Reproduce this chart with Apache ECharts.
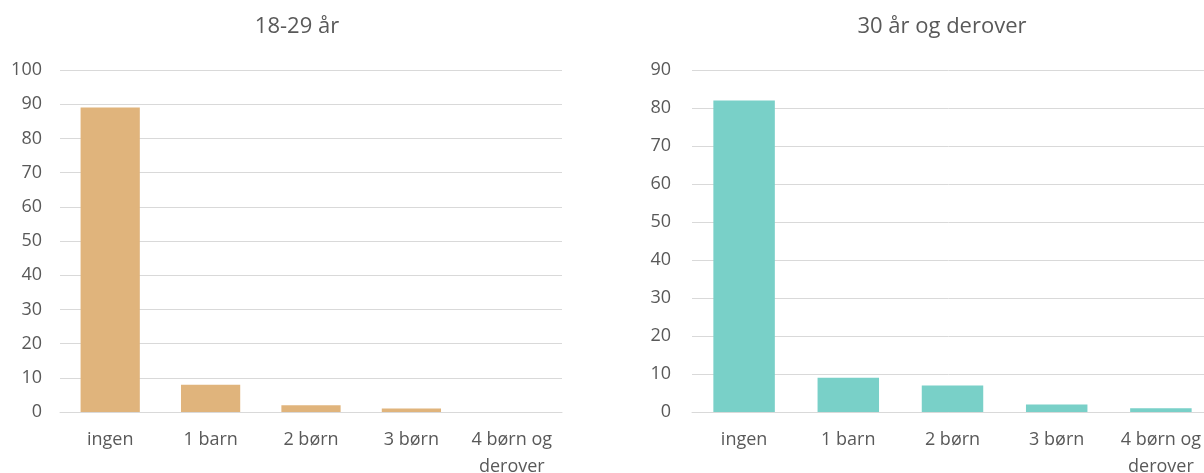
<!DOCTYPE html>
<html>
<head>
<meta charset="utf-8">
<script src="https://cdn.jsdelivr.net/npm/echarts@6/dist/echarts.min.js"></script>
<style>
  html, body { margin: 0; padding: 0; background: #fff; }
  #chart { width: 1204px; height: 473px; }
</style>
</head>
<body>
<div id="chart"></div>
<script>
// Antal børn fordelt på aldersgruppe (procent)
const categories = ['ingen', '1 barn', '2 børn', '3 børn', '4 børn og\nderover'];
const titleYoung = '18-29 år';
const titleOld = '30 år og derover';
const valuesYoung = [89, 8, 2, 1, 0];
const valuesOld = [82, 9, 7, 2, 1];

const FONT = '"Open Sans", "Noto Sans", sans-serif';
const TEXT = '#595959';
const GRID = '#d9d9d9';

function xAxis(idx) {
  return {
    type: 'category', gridIndex: idx, data: categories,
    axisLine: { show: true, lineStyle: { color: GRID, width: 1 } },
    axisTick: { show: false },
    axisLabel: { color: TEXT, fontFamily: FONT, fontSize: 18, margin: 14, lineHeight: 27, interval: 0 }
  };
}
function yAxis(idx, max, margin) {
  return {
    type: 'value', gridIndex: idx, min: 0, max: max, interval: 10,
    axisLine: { show: false }, axisTick: { show: false },
    splitLine: { lineStyle: { color: GRID, width: 1 } },
    axisLabel: { color: TEXT, fontFamily: FONT, fontSize: 18, margin: margin }
  };
}

const chart = echarts.init(document.getElementById('chart'));
chart.setOption({
  animation: false,
  title: [
    { text: titleYoung, left: 292, top: 11, textAlign: 'center',
      textStyle: { color: TEXT, fontFamily: FONT, fontSize: 22, fontWeight: 'normal' } },
    { text: titleOld, left: 937, top: 11, textAlign: 'center',
      textStyle: { color: TEXT, fontFamily: FONT, fontSize: 22, fontWeight: 'normal' } }
  ],
  grid: [
    { left: 60, right: 642, top: 70, bottom: 61, outerBoundsMode: 'none' },
    { left: 692, right: -9, top: 70, bottom: 61, outerBoundsMode: 'none' }
  ],
  xAxis: [xAxis(0), xAxis(1)],
  yAxis: [yAxis(0, 100, 18), yAxis(1, 90, 21)],
  series: [
    { type: 'bar', xAxisIndex: 0, yAxisIndex: 0, data: valuesYoung,
      barCategoryGap: '41%', itemStyle: { color: '#E0B47C' } },
    { type: 'bar', xAxisIndex: 1, yAxisIndex: 1, data: valuesOld,
      barCategoryGap: '41%', itemStyle: { color: '#79D0C8' } }
  ]
});
</script>
</body>
</html>
